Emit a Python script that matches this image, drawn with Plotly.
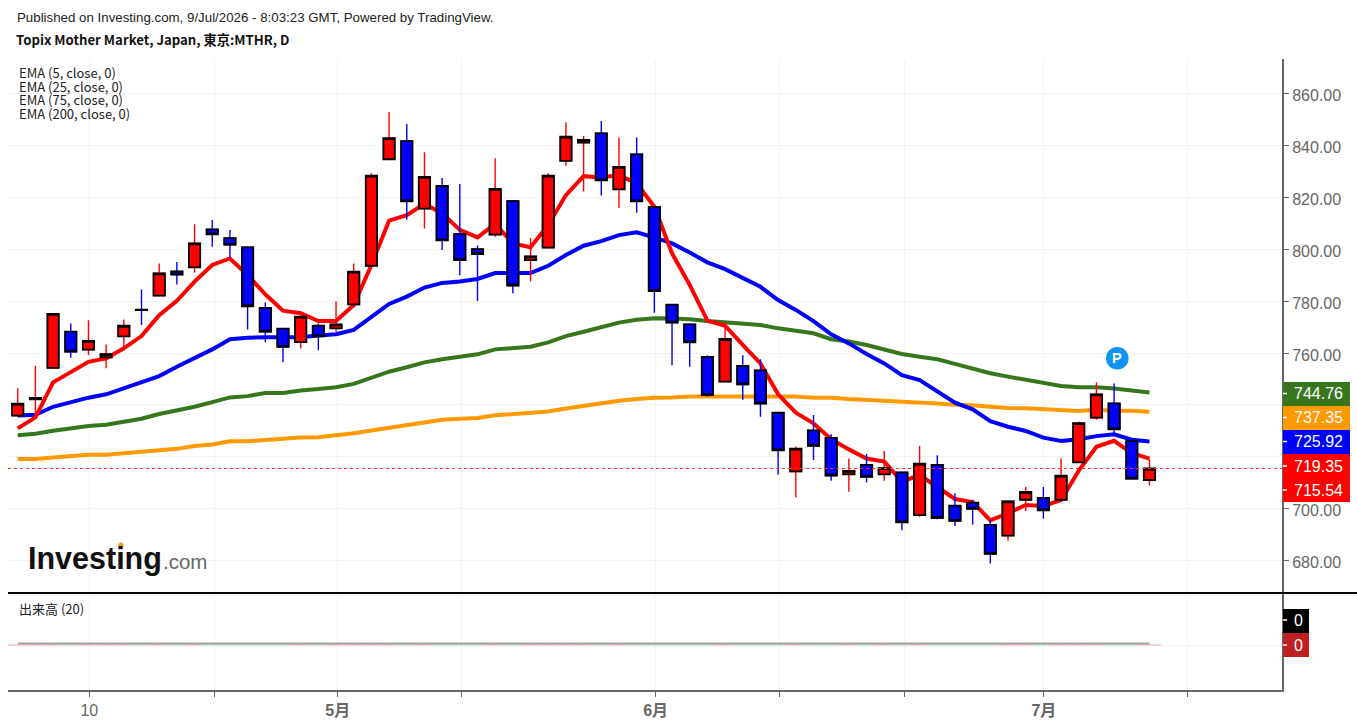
import plotly.graph_objects as go

# Daily session values, Topix Mother Market
opens = [735.9, 742.2, 754.3, 768.2, 761.3, 758.3, 766.4, 776.7, 782.1, 791.4, 793.0, 807.6, 804.2,
         800.7, 777.4, 769.4, 764.2, 770.5, 769.5, 778.7, 793.6, 834.6, 841.6, 815.6, 824.3, 805.8,
         800.0, 805.6, 818.5, 795.8, 800.6, 834.0, 841.0, 844.6, 823.0, 836.5, 816.2, 778.6, 771.0,
         758.5, 749.0, 755.0, 753.3, 737.0, 714.4, 730.2, 727.3, 713.3, 716.9, 713.3, 714.0, 697.6,
         716.9, 701.2, 702.4, 693.8, 689.7, 703.5, 704.2, 703.5, 717.9, 735.1, 740.6, 726.1, 711.1]
highs = [746.4, 755.1, 775.1, 771.4, 772.6, 763.3, 772.9, 784.5, 794.5, 795.0, 809.6, 811.2, 807.4,
         800.7, 779.4, 769.4, 774.0, 771.4, 779.9, 794.5, 829.2, 852.8, 848.2, 837.3, 827.4, 825.1,
         801.4, 835.0, 818.9, 804.3, 829.2, 848.8, 843.6, 849.3, 843.0, 843.0, 816.2, 778.6, 771.4,
         759.1, 771.8, 759.1, 757.6, 737.0, 724.0, 736.1, 728.7, 719.4, 721.1, 722.3, 714.0, 724.2,
         720.6, 706.0, 703.5, 695.7, 703.2, 708.4, 708.4, 719.4, 733.5, 748.7, 748.3, 726.5, 719.0]
lows = [735.9, 735.9, 754.3, 758.2, 759.2, 754.1, 762.4, 770.8, 782.1, 786.4, 791.0, 800.9, 796.8,
        769.1, 764.1, 756.4, 761.7, 761.1, 768.2, 778.7, 793.6, 834.6, 811.3, 807.9, 799.7, 789.9,
        780.0, 804.8, 783.0, 787.5, 800.6, 832.1, 822.2, 820.6, 815.8, 814.0, 775.5, 755.3, 754.7,
        743.2, 749.0, 742.0, 735.5, 713.2, 704.4, 718.8, 710.8, 706.6, 710.1, 710.8, 691.8, 697.0,
        696.0, 693.4, 694.0, 679.0, 687.7, 699.2, 696.2, 702.9, 717.9, 734.3, 728.4, 711.6, 709.0]
closes = [740.5, 742.7, 775.1, 760.5, 764.7, 759.6, 770.5, 776.5, 790.7, 790.2, 802.2, 805.7, 801.7,
          778.0, 768.2, 762.4, 774.0, 766.4, 771.0, 791.3, 828.3, 842.7, 818.4, 827.8, 803.4, 795.8,
          798.1, 823.2, 786.0, 797.2, 828.3, 843.3, 842.1, 826.5, 831.7, 818.4, 783.8, 771.7, 764.1,
          743.8, 765.4, 747.9, 740.5, 722.5, 723.2, 724.3, 712.8, 714.6, 712.3, 715.7, 694.8, 717.4,
          696.5, 695.4, 700.0, 682.7, 702.9, 706.5, 699.4, 712.8, 733.0, 744.1, 730.6, 711.6, 715.54]

ema5 = [731.0, 735.2, 748.7, 752.8, 756.6, 757.9, 761.8, 766.5, 774.6, 780.1, 787.5, 793.9, 796.4,
        790.0, 782.6, 776.3, 775.3, 772.3, 772.3, 778.5, 793.9, 811.0, 813.1, 817.4, 813.8, 807.4,
        804.5, 809.7, 802.2, 800.7, 809.3, 820.8, 828.1, 827.6, 828.5, 825.3, 816.3, 798.4, 786.2,
        772.5, 770.5, 763.1, 756.0, 744.1, 737.0, 732.9, 726.8, 722.9, 719.4, 718.2, 710.5, 713.0,
        708.5, 703.8, 702.6, 695.6, 698.3, 701.5, 701.1, 703.4, 714.7, 723.9, 726.2, 721.4, 719.35]
ema25 = [735.9, 736.2, 739.3, 741.0, 742.8, 744.1, 746.4, 748.6, 751.1, 754.7, 757.9, 761.4, 765.3,
         765.9, 766.1, 766.0, 766.1, 766.7, 767.2, 768.9, 774.0, 778.9, 781.7, 785.2, 787.0, 787.5,
         788.5, 790.8, 790.8, 790.8, 793.6, 797.7, 801.3, 803.1, 805.4, 806.5, 804.5, 802.2, 798.7,
         794.9, 792.3, 788.7, 785.5, 780.4, 776.6, 772.3, 767.2, 763.7, 759.6, 756.0, 751.5, 749.6,
         745.1, 740.9, 738.3, 733.8, 731.6, 730.0, 727.4, 726.1, 726.8, 728.0, 728.7, 726.6, 725.92]
ema75 = [728.3, 728.9, 730.1, 731.1, 731.9, 732.4, 733.5, 734.7, 736.5, 737.8, 739.3, 741.1, 742.9,
         743.4, 744.6, 744.6, 745.6, 746.1, 746.8, 748.1, 750.3, 752.8, 754.5, 756.4, 757.6, 758.6,
         759.5, 761.4, 761.9, 762.4, 764.1, 766.5, 768.2, 770.1, 771.7, 772.8, 773.4, 773.3, 773.0,
         772.3, 771.8, 771.2, 770.8, 769.5, 768.5, 767.6, 765.3, 764.4, 763.1, 761.4, 759.6, 758.6,
         757.6, 755.8, 753.9, 752.2, 750.9, 749.6, 748.3, 747.3, 746.8, 746.8, 746.3, 745.7, 744.76]
ema200 = [719.2, 719.2, 719.8, 720.3, 720.8, 720.8, 721.4, 722.0, 722.5, 723.1, 724.2, 724.8, 726.0,
          726.0, 726.5, 727.0, 727.5, 727.6, 728.2, 729.1, 730.2, 731.3, 732.3, 733.3, 734.3, 734.7,
          735.0, 736.0, 736.5, 737.0, 737.5, 738.6, 739.7, 740.5, 741.6, 742.3, 742.8, 742.9, 743.3,
          743.3, 743.3, 743.3, 743.3, 743.4, 743.3, 742.8, 742.8, 742.3, 742.0, 741.7, 741.1, 741.0,
          740.6, 740.1, 739.9, 739.3, 738.8, 738.7, 738.3, 738.2, 737.7, 738.2, 737.8, 737.8, 737.35]

sessions = list(range(len(closes)))
volumes = [0] * len(closes)
volume_ma = [0.015] * len(closes)

price_ticks = [680, 700, 720, 740, 760, 780, 800, 820, 840, 860]
# 720 and 740 sit under the value boxes, so they carry no label
price_tick_labels = ["680.00", "700.00", "", "", "760.00", "780.00", "800.00", "820.00", "840.00", "860.00"]
time_tick_sessions = [4.05, 11.1, 18.1, 25.12, 36.07, 43.1, 50.13, 58.03, 66.15]
time_tick_labels = ["10", "", "<b>5月</b>", "", "<b>6月</b>", "", "", "<b>7月</b>", ""]
ema_legend = ["EMA (5, close, 0)", "EMA (25, close, 0)", "EMA (75, close, 0)", "EMA (200, close, 0)"]

RED, BLUE, GREEN, ORANGE = "#ff0000", "#0000ff", "#38761d", "#ff9900"
LATIN = "Liberation Sans, Arial, sans-serif"
CJK = "Noto Sans CJK JP, Noto Sans, sans-serif"

# Pixel frame of the plotting area
LEFT, RIGHT, TOP, SPLIT, BOTTOM = 8, 1283, 59, 593, 691


def px(x):
    return (x - LEFT) / (RIGHT - LEFT)


def py(y):
    return 1 - (y - TOP) / (BOTTOM - TOP)


fig = go.Figure()

# EMA lines sit behind the candles
for values, colour, label in zip((ema200, ema75, ema25, ema5), (ORANGE, GREEN, BLUE, RED), reversed(ema_legend)):
    fig.add_trace(go.Scatter(x=sessions, y=values, mode="lines", name=label, zorder=1,
                             line=dict(color=colour, width=4), hoverinfo="skip"))

# Wicks in the candle colour
fig.add_trace(go.Candlestick(x=sessions, open=opens, high=highs, low=lows, close=closes, zorder=2,
                             whiskerwidth=0, name="wick",
                             increasing=dict(line=dict(color=RED, width=1.4), fillcolor=RED),
                             decreasing=dict(line=dict(color=BLUE, width=1.4), fillcolor=BLUE)))

# Bodies with a black outline, high/low clamped to the body
fig.add_trace(go.Candlestick(x=sessions, open=opens, close=closes, zorder=3, whiskerwidth=0, name="MTHR",
                             high=[max(o, c) for o, c in zip(opens, closes)],
                             low=[min(o, c) for o, c in zip(opens, closes)],
                             increasing=dict(line=dict(color="#000000", width=1.8), fillcolor=RED),
                             decreasing=dict(line=dict(color="#000000", width=1.8), fillcolor=BLUE)))

# Volume pane: one pale tick per session plus the 20-day average
volume_colours = ["#f6d0d0" if c >= o else "#cce8cc" for o, c in zip(opens, closes)]
fig.add_trace(go.Scatter(x=sessions, y=volumes, yaxis="y2", mode="markers", hoverinfo="skip",
                         marker=dict(symbol="line-ew", size=16.5,
                                     line=dict(color=volume_colours, width=2))))
fig.add_trace(go.Scatter(x=sessions, y=volume_ma, yaxis="y2", mode="lines",
                         hoverinfo="skip", line=dict(color="#a0a0a0", width=2)))

shapes = [
    # Axis frame of both panes
    dict(type="line", xref="paper", yref="paper", x0=1, x1=1, y0=py(BOTTOM + 1), y1=1,
         line=dict(color="#666666", width=2), layer="above"),
    dict(type="line", xref="paper", yref="paper", x0=0, x1=1, y0=0, y1=0,
         line=dict(color="#666666", width=2), layer="above"),
    # Last close marker
    dict(type="line", xref="x domain", yref="y", x0=0, x1=1, y0=closes[-1], y1=closes[-1],
         line=dict(color="#ff3030", width=1, dash="dot"), layer="above"),
    # Pane separator
    dict(type="line", xref="paper", yref="paper", x0=0, x1=px(1357), y0=py(SPLIT), y1=py(SPLIT),
         line=dict(color="#000000", width=2), layer="above"),
    # Logo accent
    dict(type="circle", xref="paper", yref="paper", x0=px(118.5), x1=px(123.5), y0=py(548), y1=py(542.5),
         fillcolor="#f7931e", line=dict(width=0), layer="above"),
    # Alert badge
    dict(type="circle", xref="paper", yref="paper", x0=px(1106), x1=px(1128.6), y0=py(369.6), y1=py(347),
         fillcolor="#1094f4", line=dict(width=0), layer="above"),
]

annotations = []


def note(text, x, y, size, family=LATIN, colour="#1a1a1a", anchor="left", vanchor="middle"):
    annotations.append(dict(text=text, xref="paper", yref="paper", x=px(x), y=py(y), showarrow=False,
                            xanchor=anchor, yanchor=vanchor, borderpad=0,
                            font=dict(size=size, family=family, color=colour)))


def value_box(text, x1, y0, y1, fill, tick_y, size=16):
    shapes.append(dict(type="rect", xref="paper", yref="paper", x0=px(RIGHT), x1=px(x1), y0=py(y1), y1=py(y0),
                       fillcolor=fill, line=dict(width=0), layer="above"))
    shapes.append(dict(type="line", xref="paper", yref="paper", x0=px(RIGHT), x1=px(RIGHT + 4),
                       y0=py(tick_y), y1=py(tick_y), line=dict(color="#ffffff", width=1.5), layer="above"))
    note(text, (RIGHT + x1) / 2 + 2, tick_y, size, colour="#ffffff", anchor="center")


value_box(f"{ema75[-1]:.2f}", 1350, 382, 406, GREEN, 393.5)
value_box(f"{ema200[-1]:.2f}", 1350, 406, 430, ORANGE, 417.5)
value_box(f"{ema25[-1]:.2f}", 1350, 430, 454, BLUE, 441.5)
value_box(f"{ema5[-1]:.2f}", 1350, 454, 478, RED, 466)
value_box(f"{closes[-1]:.2f}", 1350, 478, 502, RED, 490)
value_box(f"{volume_ma[-1]:.0f}", 1309, 609, 633, "#000000", 620)
value_box(f"{volumes[-1]:.0f}", 1309, 633, 657, "#bf2121", 645)

note("Published on Investing.com, 9/Jul/2026 - 8:03:23 GMT, Powered by TradingView.", 15.5, 17.5, 13.3, colour="#222222")
note("<b>Topix Mother Market, Japan, 東京:MTHR, D</b>", 14.5, 39.5, 13.2, family=CJK, colour="#111111")
for label, y in zip(ema_legend, (72.5, 86, 99.5, 113.5)):
    note(label, 17.5, y, 13, family=CJK, colour="#222222")
note("出来高 (20)", 17.5, 608.5, 13, family=CJK, colour="#222222")
note("<b>Investing</b>", 27, 558, 30.5, colour="#111111")
note(".com", 162, 561, 20.5, colour="#666666")
note("<b>P</b>", 1117.3, 358.3, 14.5, colour="#ffffff", anchor="center")

axis_grey = "#666666"
grid_grey = "#f3f3f3"

fig.update_layout(
    width=1357, height=724, paper_bgcolor="#ffffff", plot_bgcolor="#ffffff", showlegend=False,
    margin=dict(l=LEFT, r=1357 - RIGHT, t=TOP, b=724 - BOTTOM, pad=0, autoexpand=False),
    boxgap=0.36, boxgroupgap=0, boxmode="overlay",
    shapes=shapes, annotations=annotations,
    xaxis=dict(domain=[0, 1], anchor="y2", range=[-0.55, 71.55], rangeslider=dict(visible=False),
               tickmode="array", tickvals=time_tick_sessions, ticktext=time_tick_labels,
               showgrid=True, gridcolor=grid_grey, gridwidth=1, zeroline=False,
               ticks="outside", ticklen=5, tickcolor=axis_grey, tickwidth=1,
               tickfont=dict(size=16, family="Liberation Sans, Noto Sans CJK JP, sans-serif", color="#666666")),
    yaxis=dict(domain=[py(SPLIT), 1], anchor="x", side="right", range=[667.6, 873.2],
               tickmode="array", tickvals=price_ticks, ticktext=price_tick_labels,
               showgrid=True, gridcolor=grid_grey, gridwidth=1, zeroline=False,
               ticks="outside", ticklen=5, tickcolor=axis_grey, tickwidth=1, ticklabelshift=2,
               tickfont=dict(size=16, family=LATIN, color="#666666")),
    yaxis2=dict(domain=[0, py(SPLIT)], anchor="x", side="right", range=[-0.469, 0.531],
                tickmode="array", tickvals=[0], showticklabels=False,
                showgrid=True, gridcolor=grid_grey, gridwidth=1, zeroline=False, ticks=""),
)

fig.write_html("out.html")
